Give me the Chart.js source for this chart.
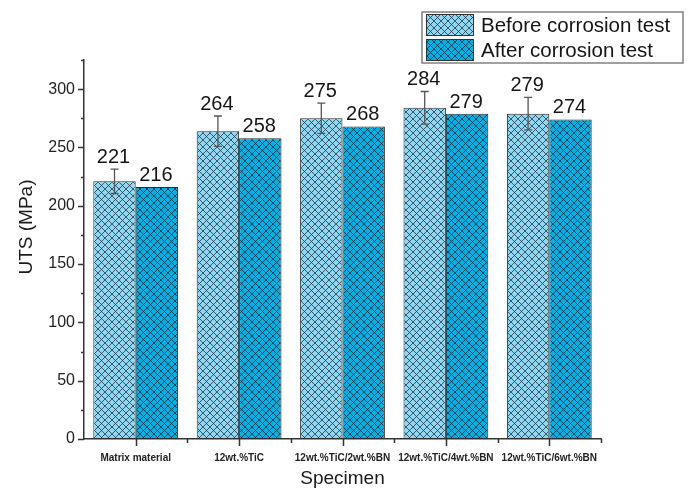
<!DOCTYPE html>
<html>
<head>
<meta charset="utf-8">
<script src="https://cdn.jsdelivr.net/npm/chart.js@4.4.1/dist/chart.umd.min.js"></script>
<style>
  html, body { margin: 0; padding: 0; background: #ffffff; }
  canvas { display: block; }
</style>
</head>
<body>
<canvas id="chart" width="697" height="488"></canvas>
<script>
// Specimens and ultimate tensile strength (MPa)
const categories = ['Matrix material', '12wt.%TiC', '12wt.%TiC/2wt.%BN', '12wt.%TiC/4wt.%BN', '12wt.%TiC/6wt.%BN'];
const seriesNames = ['Before corrosion test', 'After corrosion test'];
const beforeValues = [221, 264, 275, 284, 279];
const afterValues = [216, 258, 268, 279, 274];
const beforeErrors = [10.5, 13, 13, 14, 14];
const yTickValues = [0, 50, 100, 150, 200, 250, 300];

const FONT = '"Liberation Sans", Arial, Helvetica, sans-serif';

// Cross-hatched fill: coloured ground with a diagonal grid on top
function crossHatch(ground, ink) {
  const s = 7;
  const c = document.createElement('canvas');
  c.width = s; c.height = s;
  const g = c.getContext('2d');
  g.fillStyle = ground;
  g.fillRect(0, 0, s, s);
  g.strokeStyle = ink;
  g.lineWidth = 1;
  g.beginPath();
  for (const k of [-s, 0, s]) {
    g.moveTo(k, 0); g.lineTo(k + s, s);
    g.moveTo(k + s, 0); g.lineTo(k, s);
  }
  g.stroke();
  return g.createPattern(c, 'repeat');
}

const beforeFill = crossHatch('#90d8f2', 'rgba(35,55,75,0.8)');
const afterFill = crossHatch('#00b0e3', 'rgba(10,45,70,0.8)');
const fills = [beforeFill, afterFill];

// Error bars on the first series and value labels above every bar
const barAnnotations = {
  id: 'barAnnotations',
  afterDatasetsDraw(chart) {
    const ctx = chart.ctx;
    const y = chart.scales.y;
    ctx.save();
    ctx.fillStyle = '#151515';
    ctx.font = '20px ' + FONT;
    ctx.textAlign = 'center';
    ctx.textBaseline = 'alphabetic';
    const m0 = chart.getDatasetMeta(0);
    m0.data.forEach((bar, i) => {
      const v = beforeValues[i], e = beforeErrors[i];
      const yt = y.getPixelForValue(v + e), yb = y.getPixelForValue(v - e);
      ctx.strokeStyle = '#555';
      ctx.lineWidth = 1.3;
      ctx.beginPath();
      ctx.moveTo(bar.x, yt); ctx.lineTo(bar.x, yb);
      ctx.moveTo(bar.x - 4, yt); ctx.lineTo(bar.x + 4, yt);
      ctx.moveTo(bar.x - 4, yb); ctx.lineTo(bar.x + 4, yb);
      ctx.stroke();
      ctx.fillText(String(v), bar.x - 1, yt - 6);
    });
    const m1 = chart.getDatasetMeta(1);
    m1.data.forEach((bar, i) => {
      ctx.fillText(String(afterValues[i]), bar.x - 1, bar.y - 6);
    });
    ctx.restore();
  }
};

// Axis tick marks, axis titles and the boxed legend
const frame = {
  id: 'frame',
  afterDraw(chart) {
    const ctx = chart.ctx;
    const area = chart.chartArea;
    const x = chart.scales.x, y = chart.scales.y;
    ctx.save();
    ctx.strokeStyle = '#333';
    ctx.lineWidth = 1.5;
    ctx.beginPath();
    // y ticks: major every 50, minor every 25
    for (let v = 0; v <= y.max; v += 25) {
      const py = Math.round(y.getPixelForValue(v)) + 0.5;
      const len = (v % 50 === 0) ? 6 : 3;
      ctx.moveTo(area.left, py); ctx.lineTo(area.left - len, py);
    }
    // x ticks: major at category centres, minor at category boundaries
    const n = categories.length;
    for (let i = 0; i < n; i++) {
      const px = Math.round(x.getPixelForValue(i)) + 0.5;
      ctx.moveTo(px, area.bottom); ctx.lineTo(px, area.bottom + 7);
    }
    for (let i = 1; i <= n; i++) {
      const px = Math.round(x.getPixelForValue(i - 0.5)) + 0.5;
      ctx.moveTo(px, area.bottom); ctx.lineTo(px, area.bottom + 4);
    }
    ctx.stroke();

    // axis titles
    ctx.fillStyle = '#1a1a1a';
    ctx.font = '19px ' + FONT;
    ctx.textAlign = 'center';
    ctx.textBaseline = 'middle';
    ctx.fillText('Specimen', (area.left + area.right) / 2, 479);
    ctx.save();
    ctx.translate(27, 227);
    ctx.rotate(-Math.PI / 2);
    ctx.fillText('UTS (MPa)', 0, 0);
    ctx.restore();

    // legend
    ctx.strokeStyle = '#808080';
    ctx.lineWidth = 1.5;
    ctx.strokeRect(422, 12, 261, 51);
    const rows = [14, 39];
    rows.forEach((ry, i) => {
      ctx.fillStyle = fills[i];
      ctx.fillRect(426, ry, 48, 22);
      ctx.strokeStyle = '#333';
      ctx.lineWidth = 1;
      ctx.strokeRect(426.5, ry + 0.5, 47, 21);
      ctx.fillStyle = '#151515';
      ctx.font = '20.5px ' + FONT;
      ctx.textAlign = 'left';
      ctx.textBaseline = 'middle';
      ctx.fillText(seriesNames[i], 481, ry + 12);
    });
    ctx.restore();
  }
};

new Chart(document.getElementById('chart'), {
  type: 'bar',
  data: {
    labels: categories,
    datasets: [
      { label: seriesNames[0], data: beforeValues, backgroundColor: beforeFill, borderColor: '#2b2b2b', borderWidth: 1, borderSkipped: false, categoryPercentage: 0.82, barPercentage: 1 },
      { label: seriesNames[1], data: afterValues, backgroundColor: afterFill, borderColor: '#2b2b2b', borderWidth: 1, borderSkipped: false, categoryPercentage: 0.82, barPercentage: 1 }
    ]
  },
  options: {
    responsive: false,
    animation: false,
    devicePixelRatio: 1,
    layout: { padding: { top: 60, right: 96, left: 0, bottom: 0 } },
    plugins: { legend: { display: false }, tooltip: { enabled: false } },
    scales: {
      x: {
        grid: { display: false, drawTicks: false },
        border: { display: true, color: '#333', width: 1.5 },
        ticks: { font: { family: FONT, size: 10, weight: 'bold' }, color: '#222', padding: 13, maxRotation: 0, autoSkip: false },
        afterFit(scale) { scale.height = 49; }
      },
      y: {
        min: 0, max: 325,
        grid: { display: false, drawTicks: false },
        border: { display: true, color: '#333', width: 1.5 },
        ticks: { font: { family: FONT, size: 16 }, color: '#222', padding: 9 },
        afterBuildTicks(scale) { scale.ticks = yTickValues.map(v => ({ value: v })); },
        afterFit(scale) { scale.width = 84; }
      }
    }
  },
  plugins: [barAnnotations, frame]
});
</script>
</body>
</html>
